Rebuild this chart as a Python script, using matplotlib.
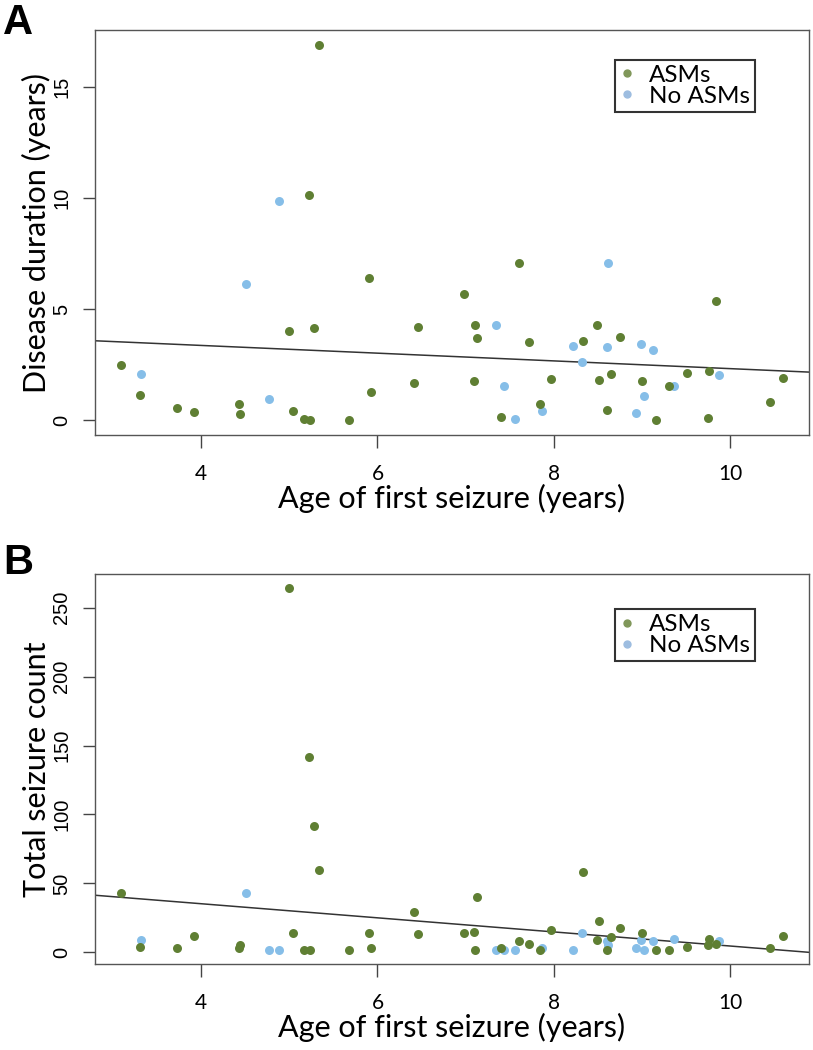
import numpy as np
import matplotlib
matplotlib.use("Agg")
import matplotlib.pyplot as plt
from matplotlib.lines import Line2D

# age of first seizure (years), shared by both panels
asm_age = [3.10, 3.31, 3.73, 3.92, 4.43, 4.44, 5.00, 5.04, 5.17, 5.23, 5.24, 5.28, 5.34, 5.68,
           5.90, 5.93, 6.41, 6.46, 6.98, 7.09, 7.10, 7.13, 7.40, 7.60, 7.72, 7.84, 7.97, 8.33,
           8.49, 8.51, 8.60, 8.65, 8.75, 9.00, 9.16, 9.30, 9.51, 9.74, 9.76, 9.84, 10.45, 10.59]
no_asm_age = [3.32, 4.51, 4.77, 4.88, 7.34, 7.43, 7.56, 7.86, 8.22, 8.32, 8.60, 8.61, 8.93,
              8.99, 9.02, 9.12, 9.36, 9.87]

# panel A: disease duration (years)
asm_duration = [2.48, 1.14, 0.56, 0.38, 0.74, 0.25, 4.00, 0.42, 0.05, 10.15, 0.00, 4.16, 16.90,
                0.02, 6.40, 1.28, 1.67, 4.19, 5.69, 1.77, 4.29, 3.68, 0.14, 7.06, 3.53, 0.71,
                1.86, 3.54, 4.26, 1.79, 0.44, 2.07, 3.74, 1.74, 0.00, 1.55, 2.12, 0.10, 2.22,
                5.36, 0.81, 1.89]
no_asm_duration = [2.07, 6.14, 0.95, 9.85, 4.26, 1.55, 0.03, 0.39, 3.35, 2.61, 3.29, 7.06, 0.33,
                   3.41, 1.08, 3.15, 1.53, 2.01]

# panel B: total seizure count
asm_count = [43, 4, 3, 12, 3, 5, 264, 14, 2, 142, 2, 92, 60, 2, 14, 3, 29, 13, 14, 15, 2, 40,
             3, 8, 6, 2, 16, 58, 9, 23, 2, 11, 18, 14, 2, 2, 4, 5, 10, 6, 3, 12]
no_asm_count = [9, 43, 2, 2, 2, 2, 2, 3, 2, 14, 8, 5, 3, 9, 2, 8, 10, 8]

# regression lines (intercept, slope)
fit_duration = (4.06, -0.1745)
fit_count = (55.75, -5.12)

GREEN = "#5F7F33"
BLUE = "#86BEE8"
LABEL_FONT = "Lato"
TICK_FONT = "Liberation Sans"

fig = plt.figure(figsize=(8.13, 10.5), dpi=100)
ax_a = fig.add_axes([0.1169, 0.5857, 0.8782, 0.3857])
ax_b = fig.add_axes([0.1169, 0.0819, 0.8782, 0.3714])


def r_limits(vals):
    lo, hi = min(vals), max(vals)
    pad = 0.04 * (hi - lo)
    return lo - pad, hi + pad


def draw_panel(ax, y_asm, y_no, fit, ylabel, yticks, legend_top):
    ax.scatter(no_asm_age, y_no, s=42, color=BLUE, linewidths=0, zorder=3)
    ax.scatter(asm_age, y_asm, s=42, color=GREEN, linewidths=0, zorder=4)
    ax.set_xlim(*r_limits(asm_age + no_asm_age))
    ax.set_ylim(*r_limits(y_asm + y_no))
    ax.axline((0, fit[0]), slope=fit[1], color="#333333", lw=1.1, zorder=2)

    ax.set_xticks([4, 6, 8, 10])
    ax.set_yticks(yticks)
    ax.set_xticklabels([str(t) for t in [4, 6, 8, 10]], fontsize=15, family=LABEL_FONT)
    ax.set_yticklabels([str(t) for t in yticks], fontsize=14.5, family=TICK_FONT,
                       rotation=90, va="center")
    ax.tick_params(axis="both", direction="out", length=9, width=1.0, color="#444444")
    ax.tick_params(axis="x", pad=12)
    ax.tick_params(axis="y", pad=8)
    for sp in ax.spines.values():
        sp.set_color("#555555")
        sp.set_linewidth(1.0)

    ax.set_xlabel("Age of first seizure (years)", fontsize=22, family=LABEL_FONT, labelpad=0)
    ax.set_ylabel(ylabel, fontsize=22, family=LABEL_FONT, labelpad=1)

    handles = [
        Line2D([], [], ls="none", marker="o", ms=5, color="#80975A", label="ASMs"),
        Line2D([], [], ls="none", marker="o", ms=5, color="#9DBDE0", label="No ASMs"),
    ]
    leg = ax.legend(handles=handles, loc="upper left", bbox_to_anchor=(0.728, legend_top),
                    frameon=True, fancybox=False, prop={"family": LABEL_FONT, "size": 17.5},
                    handlelength=0.6, handletextpad=0.6, borderpad=0.2, labelspacing=0.0,
                    borderaxespad=0)
    leg.get_frame().set_edgecolor("black")
    leg.get_frame().set_linewidth(1.5)


draw_panel(ax_a, asm_duration, no_asm_duration, fit_duration,
           "Disease duration (years)", [0, 5, 10, 15], 0.926)
draw_panel(ax_b, asm_count, no_asm_count, fit_count,
           "Total seizure count", [0, 50, 100, 150, 200, 250], 0.91)

fig.text(0.004, 0.997, "A", fontsize=30, fontweight="bold", family=TICK_FONT, va="top")
fig.text(0.004, 0.483, "B", fontsize=30, fontweight="bold", family=TICK_FONT, va="top")

fig.savefig("out.png", dpi=100)
